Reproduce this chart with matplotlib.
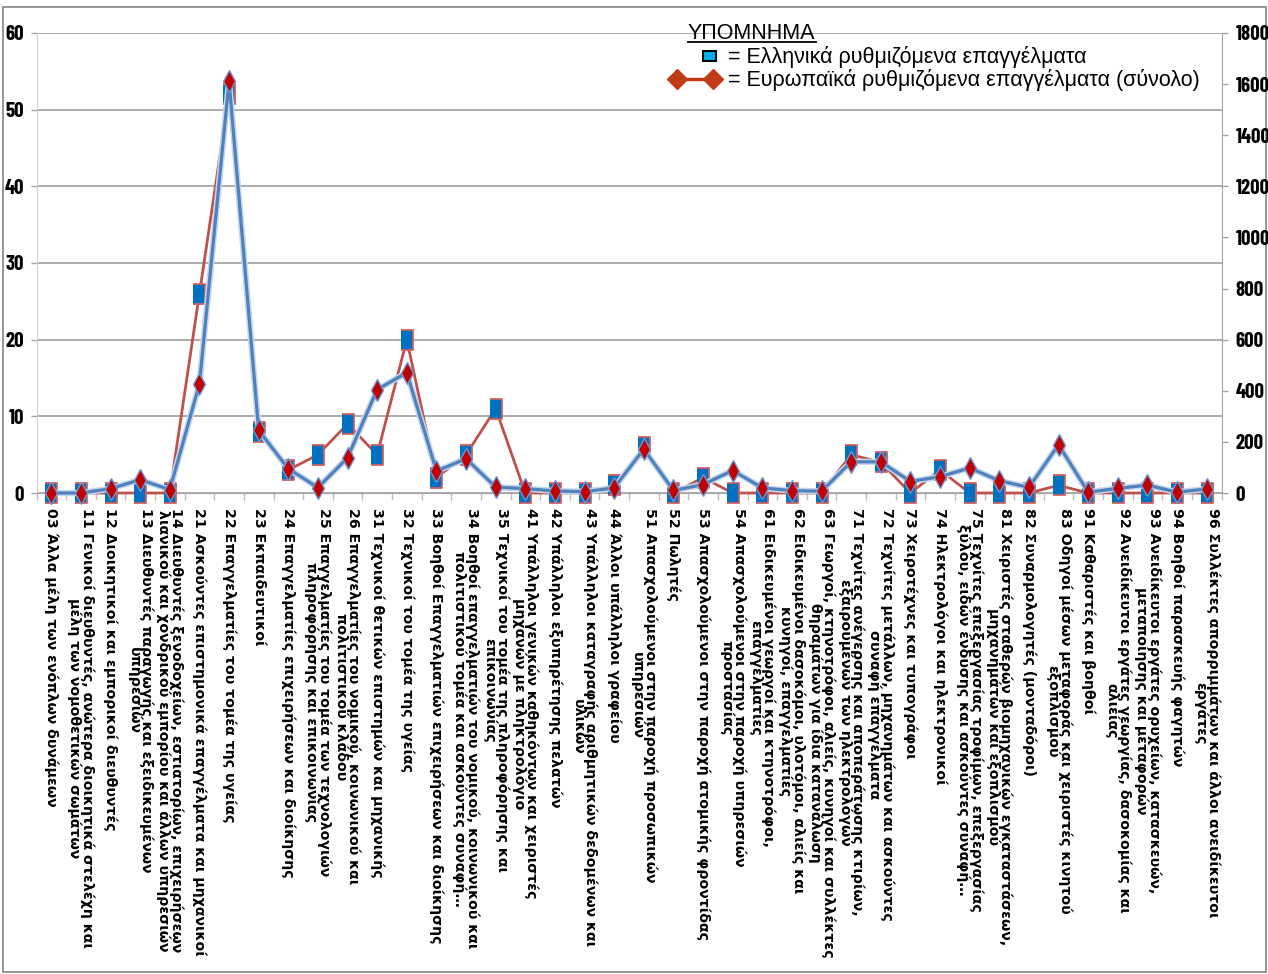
import matplotlib
matplotlib.use('Agg')
import matplotlib.pyplot as plt
from matplotlib.lines import Line2D
from matplotlib.patches import Rectangle
import matplotlib.patheffects as pe

categories = [
    "03 Άλλα μέλη των ενόπλων δυνάμεων",
    "11 Γενικοί διευθυντές, ανώτερα διοικητικά στελέχη και\nμέλη των νομοθετικών σωμάτων",
    "12 Διοικητικοί και εμπορικοί διευθυντές",
    "13 Διευθυντές παραγωγής και εξειδικευμένων\nυπηρεσιών",
    "14 Διευθυντές ξενοδοχείων, εστιατορίων, επιχειρήσεων\nλιανικού και χονδρικού εμπορίου και άλλων υπηρεσιών",
    "21 Ασκούντες επιστημονικά επαγγέλματα και μηχανικοί",
    "22 Επαγγελματίες του τομέα της υγείας",
    "23 Εκπαιδευτικοί",
    "24 Επαγγελματίες επιχειρήσεων και διοίκησης",
    "25 Επαγγελματίες του τομέα των τεχνολογιών\nπληροφόρησης και επικοινωνίας",
    "26 Επαγγελματίες του νομικού, κοινωνικού και\nπολιτιστικού κλάδου",
    "31 Τεχνικοί θετικών επιστημών και μηχανικής",
    "32 Τεχνικοί του τομέα της υγείας",
    "33 Βοηθοί Επαγγελματιών επιχειρήσεων και διοίκησης",
    "34 Βοηθοί επαγγελματιών του νομικού, κοινωνικού και\nπολιτιστικού τομέα και ασκούντες συναφή…",
    "35 Τεχνικοί του τομέα της πληροφόρησης και\nεπικοινωνίας",
    "41 Υπάλληλοι γενικών καθηκόντων και χειριστές\nμηχανών με πληκτρολόγιο",
    "42 Υπάλληλοι εξυπηρέτησης πελατών",
    "43 Υπάλληλοι καταγραφής αριθμητικών δεδομένων και\nυλικών",
    "44 Άλλοι υπάλληλοι γραφείου",
    "51 Απασχολούμενοι στην παροχή προσωπικών\nυπηρεσιών",
    "52 Πωλητές",
    "53 Απασχολούμενοι στην παροχή ατομικής φροντίδας",
    "54 Απασχολούμενοι στην παροχή υπηρεσιών\nπροστασίας",
    "61 Ειδικευμένοι γεωργοί και κτηνοτρόφοι,\nεπαγγελματίες",
    "62 Ειδικευμένοι δασοκόμοι, υλοτόμοι, αλιείς και\nκυνηγοί, επαγγελματίες",
    "63 Γεωργοί, κτηνοτρόφοι, αλιείς, κυνηγοί και συλλέκτες\nθηραμάτων για ίδια κατανάλωση",
    "71 Τεχνίτες ανέγερσης και αποπεράτωσης κτιρίων,\nεξαιρουμένων των ηλεκτρολόγων",
    "72 Τεχνίτες μετάλλων, μηχανημάτων και ασκούντες\nσυναφή επαγγέλματα",
    "73 Χειροτέχνες και τυπογράφοι",
    "74 Ηλεκτρολόγοι και ηλεκτρονικοί",
    "75 Τεχνίτες επεξεργασίας τροφίμων, επεξεργασίας\nξύλου, ειδών ένδυσης και ασκούντες συναφή…",
    "81 Χειριστές σταθερών βιομηχανικών εγκαταστάσεων,\nμηχανημάτων και εξοπλισμού",
    "82 Συναρμολογητές (μονταδόροι)",
    "83 Οδηγοί μέσων μεταφοράς και χειριστές κινητού\nεξοπλισμού",
    "91 Καθαριστές και βοηθοί",
    "92 Ανειδίκευτοι εργάτες γεωργίας, δασοκομίας και\nαλιείας",
    "93 Ανειδίκευτοι εργάτες ορυχείων, κατασκευών,\nμεταποίησης και μεταφορών",
    "94 Βοηθοί παρασκευής φαγητών",
    "96 Συλλέκτες απορριμμάτων και άλλοι ανειδίκευτοι\nεργάτες",
]

greek = [0, 0, 0, 0, 0, 26, 52, 8, 3, 5, 9, 5, 20, 2, 5, 11, 0, 0, 0, 1,
         6, 0, 2, 0, 0, 0, 0, 5, 4, 0, 3, 0, 0, 0, 1, 0, 0, 0, 0, 0]
europe = [0, 0, 17, 52, 13, 427, 1613, 245, 95, 21, 138, 405, 471, 86, 134, 23, 17, 8, 5, 20,
          172, 10, 33, 88, 20, 9, 7, 122, 122, 45, 64, 98, 48, 22, 189, 3, 18, 31, 3, 16]

left_ticks = [0, 10, 20, 30, 40, 50, 60]
right_ticks = [0, 200, 400, 600, 800, 1000, 1200, 1400, 1600, 1800]

legend_title = "ΥΠΟΜΝΗΜΑ"
legend_greek = "= Ελληνικά ρυθμιζόμενα επαγγέλματα"
legend_europe = "= Ευρωπαϊκά ρυθμιζόμενα επαγγέλματα (σύνολο)"

W, H = 1268, 974
fig = plt.figure(figsize=(W / 100, H / 100), dpi=100)
fig.patch.set_facecolor('white')

def fx(px):
    return px / W

def fy(py):
    return 1 - py / H

ax = fig.add_axes([fx(36.5), fy(493), fx(1221.5) - fx(36.5), fy(33) - fy(493)])
ax2 = ax.twinx()

x = list(range(len(categories)))
rect_marker = [(-0.6, -1), (0.6, -1), (0.6, 1), (-0.6, 1)]

ax.plot(x, greek, color='#C0504D', lw=2, marker=rect_marker, ms=14,
        mfc='#0070C0', mec='#D06060', mew=1.3, zorder=3, clip_on=False)
ax2.plot(x, europe, color='#4F81BD', lw=2.3, zorder=4, clip_on=False,
         path_effects=[pe.Stroke(linewidth=4.5, foreground='#C6D6EC'), pe.Normal()])
ax2.plot(x, europe, ls='none', marker='d', ms=11,
         mfc='#C00000', mec='#6A98D4', mew=1.0, zorder=5, clip_on=False)

ax.set_xlim(-0.5, len(categories) - 0.5)
ax.set_ylim(0, 60)
ax2.set_ylim(0, 1800)

ax.set_axisbelow(True)
ax.yaxis.grid(True, color='#A6A6A6', lw=1.3)
ax.set_yticks(left_ticks)
ax2.set_yticks(right_ticks)

tick_font = dict(family=['Barlow Condensed', 'Asap Condensed', 'DejaVu Sans'],
                 weight='bold', size=15)
ax.set_yticklabels([str(v) for v in left_ticks], fontdict=tick_font)
ax2.set_yticklabels([str(v) for v in right_ticks], fontdict=tick_font)
ax.tick_params(axis='y', length=4, width=1, color='#A6A6A6', pad=5)
ax2.tick_params(axis='y', length=4, width=1, color='#A6A6A6', pad=6)

ax.set_xticks(x)
ax.set_xticklabels(categories, rotation=270, ha='center', va='top',
                   multialignment='center', linespacing=0.84,
                   fontdict=dict(family='DejaVu Sans', weight='bold', size=10.2))
ax.tick_params(axis='x', which='major', length=0, pad=11)
ax.set_xticks([k - 0.5 for k in range(len(categories) + 1)], minor=True)
ax.tick_params(axis='x', which='minor', length=5, width=1, color='#BFBFBF')

ax.spines['top'].set_visible(False)
ax.spines['left'].set_color('#D0D0D0')
ax.spines['bottom'].set_color('#A6A6A6')
ax.spines['right'].set_visible(False)
for s in ['top', 'left', 'bottom']:
    ax2.spines[s].set_visible(False)
ax2.spines['right'].set_color('#A6A6A6')

# chart area border
fig.add_artist(Rectangle((fx(3), fy(972)), fx(1266) - fx(3), fy(7) - fy(972),
                         transform=fig.transFigure, fill=False,
                         edgecolor='#8C8C8C', lw=1.3, zorder=0))

# manual legend
lf = dict(family=['Liberation Sans', 'DejaVu Sans'], size=15.5, color='black')
t_title = fig.text(fx(688), fy(39), legend_title, ha='left', va='baseline', **lf)
fig.text(fx(728), fy(63), legend_greek, ha='left', va='baseline', **lf)
fig.text(fx(728), fy(86), legend_europe, ha='left', va='baseline', **lf)
fig.add_artist(Rectangle((fx(703), fy(61)), fx(716) - fx(703), fy(51) - fy(61),
                         transform=fig.transFigure, facecolor='#00B0F0',
                         edgecolor='black', lw=1.5))
fig.add_artist(Line2D([fx(677), fx(713)], [fy(79), fy(79)], transform=fig.transFigure,
                      color='#C23B17', lw=2.5, marker='D', ms=10,
                      mfc='#C23B17', mec='#C23B17'))

fig.canvas.draw()
bb = t_title.get_window_extent()
fig.add_artist(Line2D([bb.x0 / W, bb.x1 / W], [fy(41.5), fy(41.5)],
                      transform=fig.transFigure, color='black', lw=1.3))

fig.savefig('out.png', dpi=100, facecolor='white')
